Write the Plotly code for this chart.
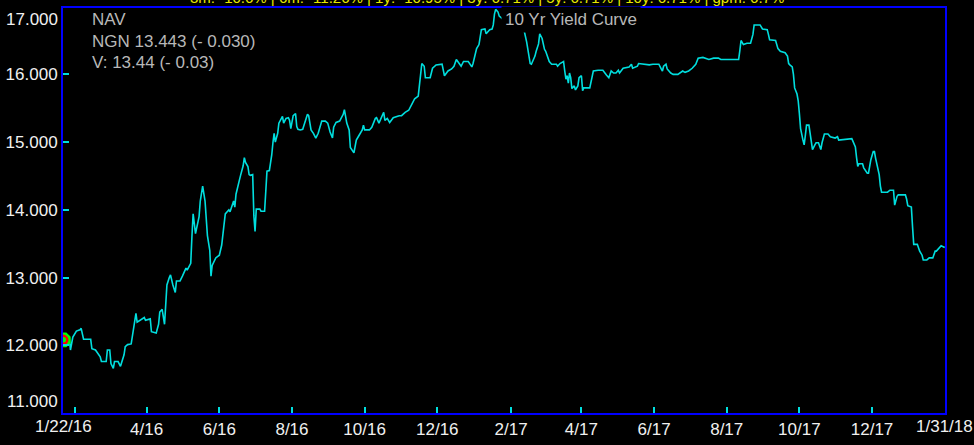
"""NAV line chart, dark terminal style."""

import pandas as pd
import plotly.graph_objects as go

START = "2016-01-22"

# trading-day offsets from START
days_a = [0, 5, 6, 8, 11, 14, 15, 17, 23, 24, 27, 29, 31, 32, 36, 37, 39, 40, 42, 43,
          46, 48, 51, 52, 54, 57, 59, 61, 62, 65, 68, 69, 73, 74, 78, 80, 81, 83, 85, 86,
          87, 89, 90, 92, 94, 95, 98, 100, 103, 104, 106, 107, 108, 109, 111, 112, 114, 115, 117, 119,
          120, 121, 123, 124, 125, 128, 131, 133]
nav_a = [12.08, 12.11, 11.93, 12.12, 12.21, 12.23, 12.25, 12.09, 12.09, 11.95,
         11.93, 11.88, 11.83, 11.76, 11.76, 11.93, 11.93, 11.73, 11.66, 11.76,
         11.76, 11.69, 11.86, 11.98, 12.01, 12.02, 12.24, 12.47, 12.34, 12.37,
         12.41, 12.37, 12.39, 12.20, 12.18, 12.31, 12.49, 12.53, 12.31, 12.60,
         12.89, 13.00, 13.04, 12.89, 12.78, 12.95, 12.95, 13.02, 13.14, 13.11,
         13.17, 13.21, 13.61, 13.94, 13.65, 13.72, 13.90, 14.13, 14.35, 14.13,
         13.91, 13.62, 13.40, 13.02, 13.18, 13.29, 13.33, 13.48]

days_b = [135, 136, 139, 140, 143, 144, 145, 146, 148, 149, 151, 152, 153, 155, 156, 157, 159, 160, 161, 162,
          165, 166, 169, 170, 171, 173, 174, 175, 176, 177, 178, 180, 181, 182, 184, 185, 187, 189, 190, 191,
          193, 195, 196, 197, 199, 201, 203, 205, 206, 208, 210, 212, 214, 215, 217, 220, 222, 224, 226, 227,
          229, 232, 235, 236, 238, 240, 241, 244, 246, 248, 251, 252, 253, 257, 259, 262, 263, 265]
nav_b = [13.79, 13.94, 14.00, 13.97, 14.13, 14.04, 14.23, 14.32, 14.45, 14.52,
         14.65, 14.77, 14.70, 14.64, 14.52, 14.51, 14.52, 13.91, 13.68, 14.01,
         14.01, 13.98, 13.98, 14.27, 14.57, 14.58, 14.67, 14.81, 14.99, 15.13,
         15.00, 15.13, 15.28, 15.31, 15.38, 15.28, 15.35, 15.36, 15.32, 15.20,
         15.39, 15.42, 15.23, 15.19, 15.18, 15.19, 15.29, 15.41, 15.39, 15.18,
         15.13, 15.06, 15.13, 15.20, 15.31, 15.31, 15.28, 15.15, 15.06, 15.22,
         15.29, 15.31, 15.41, 15.48, 15.28, 15.18, 14.92, 14.84, 15.03, 15.09,
         15.18, 15.25, 15.18, 15.18, 15.22, 15.35, 15.36, 15.28]

days_c = [269, 270, 272, 274, 277, 282, 284, 287, 290, 293, 295, 298, 299, 301, 303, 304, 308, 310, 313, 318,
          320, 323, 326, 328, 330, 332, 334, 336, 340, 343, 344, 347, 349, 351, 354, 355, 358, 360, 361, 362,
          363, 365, 366, 370, 374, 378, 383, 385]
nav_c = [15.44, 15.32, 15.35, 15.29, 15.36, 15.39, 15.39, 15.44, 15.47, 15.57,
         15.64, 15.68, 15.83, 16.16, 16.12, 15.95, 15.95, 16.09, 16.14, 16.15,
         15.98, 16.05, 16.08, 16.12, 16.22, 16.16, 16.12, 16.19, 16.19, 16.11,
         16.16, 16.38, 16.44, 16.66, 16.67, 16.60, 16.66, 16.67, 16.73, 16.89,
         16.96, 16.92, 16.86, 16.80, 16.75, 16.83, 16.77, 16.72]

days_d = [387, 389, 391, 392, 393, 395, 396, 397, 399, 400, 402, 404, 405, 408, 410, 414, 415, 417, 420, 421,
          422, 423, 424, 425, 426, 427, 429, 430, 432, 433, 435, 436, 437, 442, 445, 449, 453, 456, 458, 460,
          462, 464, 466, 467, 470, 475, 477, 478, 482, 483, 487, 489, 492, 495, 500, 502, 503, 504, 506, 507,
          510, 512, 516, 520, 522, 525, 528, 531, 533, 537, 542, 546, 550, 552, 558, 567, 568, 569, 571, 574,
          577]
nav_d = [16.64, 16.48, 16.29, 16.16, 16.15, 16.22, 16.27, 16.34, 16.45, 16.60,
         16.53, 16.37, 16.34, 16.19, 16.15, 16.15, 16.12, 16.16, 16.19, 16.05,
         15.93, 15.98, 15.87, 16.02, 15.95, 15.79, 15.83, 15.77, 15.83, 15.95,
         15.98, 15.76, 15.80, 15.80, 16.05, 16.06, 16.06, 15.99, 15.95, 16.05,
         16.02, 16.02, 16.06, 16.02, 16.09, 16.11, 16.15, 16.09, 16.12, 16.16,
         16.15, 16.14, 16.14, 16.15, 16.15, 16.08, 16.05, 16.12, 16.15, 16.08,
         16.02, 16.00, 16.00, 16.05, 16.03, 16.05, 16.09, 16.15, 16.24, 16.25,
         16.22, 16.24, 16.24, 16.22, 16.22, 16.22, 16.35, 16.50, 16.44, 16.46,
         16.46]

days_e = [579, 580, 585, 587, 591, 592, 593, 598, 599, 600, 602, 606, 608, 609, 610, 612, 613, 614, 616, 617,
          618, 619, 621, 622, 623, 624, 626, 627, 628, 629, 631, 632, 634, 636, 637, 638, 639, 642, 644, 648,
          650, 651, 662, 663, 665, 666, 667, 668, 671, 672, 673, 675, 676, 678, 680, 681, 682, 684, 685, 686,
          687, 692, 694, 697, 698, 700, 701, 707, 708, 709, 712, 713, 714, 717, 719, 721, 722, 725, 727, 730,
          732, 733, 735, 737, 740]
nav_e = [16.59, 16.73, 16.73, 16.67, 16.66, 16.59, 16.51, 16.50, 16.44, 16.38,
         16.34, 16.32, 16.27, 16.16, 16.14, 16.11, 16.00, 15.80, 15.71, 15.61,
         15.42, 15.20, 15.03, 14.96, 15.10, 15.25, 15.25, 15.13, 14.96, 14.89,
         14.96, 14.99, 14.99, 14.89, 14.99, 15.06, 15.12, 15.12, 15.08, 15.06,
         15.08, 15.03, 15.05, 15.01, 14.93, 14.77, 14.64, 14.68, 14.68, 14.62,
         14.59, 14.54, 14.54, 14.74, 14.86, 14.86, 14.76, 14.59, 14.52, 14.35,
         14.26, 14.26, 14.29, 14.29, 14.07, 14.20, 14.22, 14.22, 14.16, 14.06,
         14.04, 13.75, 13.49, 13.49, 13.39, 13.33, 13.26, 13.26, 13.29, 13.29,
         13.39, 13.39, 13.43, 13.47, 13.443]

x_tick_dates = ["2016-02-01", "2016-04-01", "2016-06-01", "2016-08-01", "2016-10-01", "2016-12-01",
                "2017-02-01", "2017-04-01", "2017-06-01", "2017-08-01", "2017-10-01", "2017-12-01"]
x_tick_text = ["", "4/16", "6/16", "8/16", "10/16", "12/16", "2/17", "4/17", "6/17", "8/17", "10/17", "12/17"]
x_edge_labels = [("2016-01-22", "1/22/16"), ("2018-01-31", "1/31/18")]
y_ticks = [12, 13, 14, 15, 16]
y_edge_ticks = [17, 11]

header = "3m: -10.6% | 6m: -11.26% | 1y: -10.95% | 3y: 6.71% | 5y: 6.71% | 10y: 6.71% | gpm: 6.7%"
info_lines = ["NAV", "NGN 13.443 (- 0.030)", "V: 13.44 (- 0.03)"]
series_label = "10 Yr Yield Curve"

days = days_a + days_b + days_c + days_d + days_e
nav = nav_a + nav_b + nav_c + nav_d + nav_e
assert len(days) == len(nav), (len(days), len(nav))
dates = pd.Timestamp(START) + pd.to_timedelta(days, unit="D")

FONT = "Liberation Sans, Arial, sans-serif"
TICK_FONT = dict(family=FONT, size=17, color="#f0f0f0")
BLUE = "#0000ff"
CYAN = "#00dede"

fig = go.Figure()
fig.add_trace(
    go.Scatter(x=dates, y=nav, mode="lines", line=dict(color=CYAN, width=1.6),
               showlegend=False, hoverinfo="skip")
)
fig.add_trace(
    go.Scatter(x=dates[:1], y=nav[:1], mode="markers",
               marker=dict(symbol="octagon", size=16, color="#00ff00"),
               showlegend=False, hoverinfo="skip")
)
fig.add_trace(
    go.Scatter(x=dates[:1], y=nav[:1], mode="markers",
               marker=dict(symbol="circle-open", size=8, color="#ff0000", line=dict(width=2.5)),
               showlegend=False, hoverinfo="skip")
)

annotations = []
for i, line in enumerate(info_lines):
    annotations.append(dict(
        text=line, xref="paper", yref="paper", x=0.0305, y=0.9707 - i * 0.053,
        xanchor="left", yanchor="middle", showarrow=False,
        font=dict(family=FONT, size=17, color="#b8b8b8"),
    ))
annotations.append(dict(
    text=series_label, xref="paper", yref="paper", x=0.497, y=0.9707,
    xanchor="left", yanchor="middle", showarrow=False, bgcolor="#000000", borderpad=3,
    font=dict(family=FONT, size=17, color="#b8b8b8"),
))
# summary line above the frame; only its lower edge shows in the window
annotations.append(dict(
    text=header, xref="paper", yref="paper", x=0.481, y=1, yshift=0,
    xanchor="center", yanchor="bottom", showarrow=False,
    font=dict(family=FONT, size=15, color="#e8e800"),
))
for v in y_edge_ticks:
    annotations.append(dict(
        text=f"{v:.3f}", xref="paper", yref="paper", x=0, y=1 if v == 17 else 0,
        xanchor="right", yanchor="top" if v == 17 else "bottom", xshift=-3,
        showarrow=False, font=TICK_FONT,
    ))
for d, label in x_edge_labels:
    annotations.append(dict(
        text=label, xref="x", yref="paper", x=d, y=0, yshift=-2,
        xanchor="center", yanchor="top", showarrow=False, font=TICK_FONT,
    ))

fig.update_layout(
    width=974,
    height=445,
    margin=dict(l=61, r=29, t=6, b=29),
    plot_bgcolor="#000000",
    paper_bgcolor="#000000",
    font=dict(family=FONT, color="#f0f0f0"),
    showlegend=False,
    annotations=annotations,
    xaxis=dict(
        type="date",
        range=["2016-01-21 18:00", "2018-01-31 06:00"],
        tickmode="array", tickvals=x_tick_dates, ticktext=x_tick_text,
        ticks="inside", ticklen=6, tickwidth=1.5, tickcolor=CYAN,
        tickfont=TICK_FONT, showgrid=False, zeroline=False,
        showline=True, linecolor=BLUE, linewidth=2, mirror=True,
    ),
    yaxis=dict(
        range=[11.0, 16.98],
        tickmode="array", tickvals=y_ticks, ticktext=[f"{v:.3f}" for v in y_ticks],
        ticks="inside", ticklen=6, tickwidth=1.5, tickcolor=CYAN,
        tickfont=TICK_FONT, showgrid=False, zeroline=False,
        showline=True, linecolor=BLUE, linewidth=2, mirror=True,
    ),
)

# the page body has an 8px default margin; drop it so the figure sits at the window corner
fig.write_html(
    "out.html",
    config={"displayModeBar": False},
    post_script="document.body.style.margin = '0';",
)
